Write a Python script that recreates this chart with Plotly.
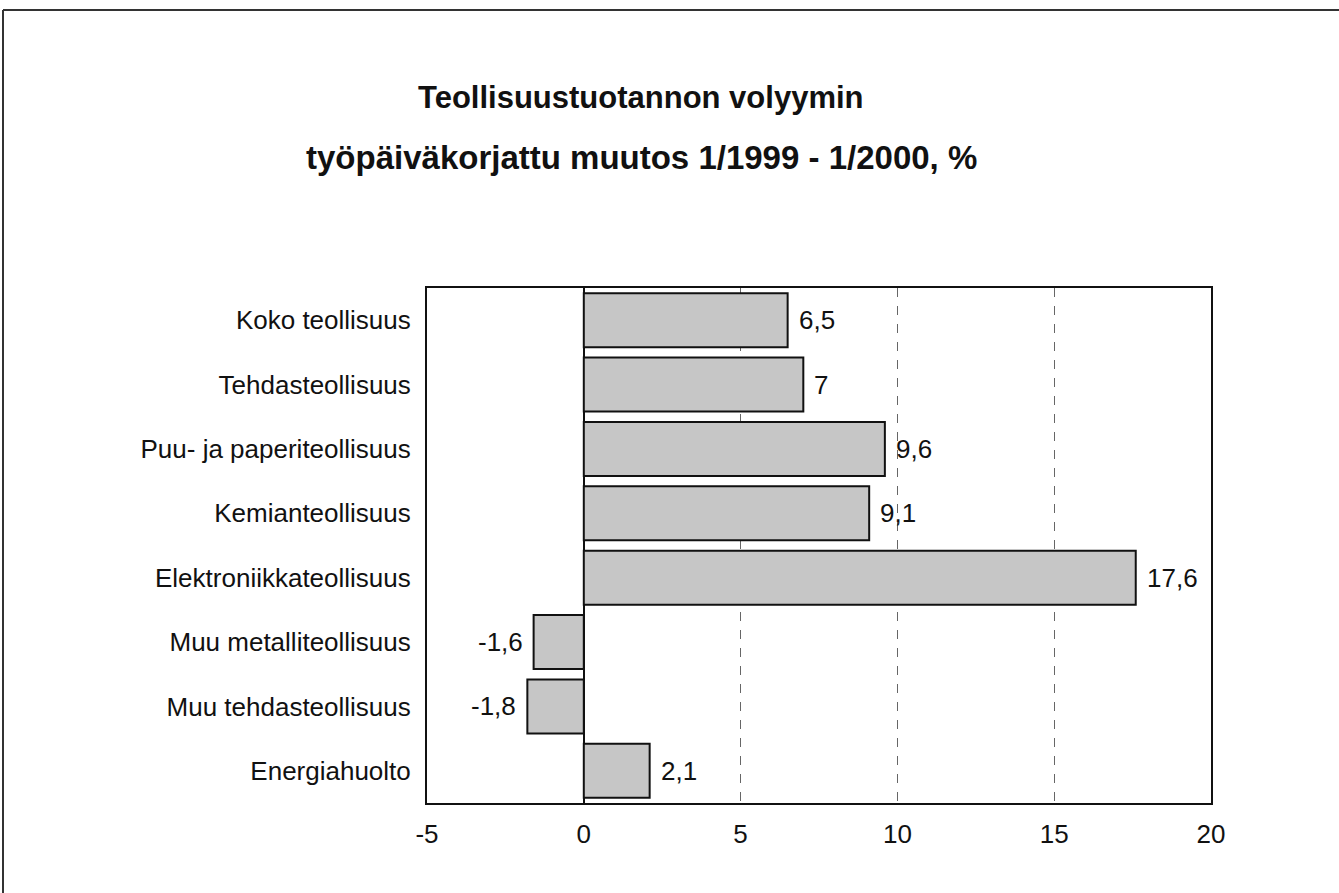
import plotly.graph_objects as go

categories = ["Koko teollisuus", "Tehdasteollisuus", "Puu- ja paperiteollisuus",
              "Kemianteollisuus", "Elektroniikkateollisuus", "Muu metalliteollisuus",
              "Muu tehdasteollisuus", "Energiahuolto"]
values = [6.5, 7, 9.6, 9.1, 17.6, -1.6, -1.8, 2.1]
x_ticks = [-5, 0, 5, 10, 15, 20]
title_lines = ["Teollisuustuotannon volyymin",
               "työpäiväkorjattu muutos 1/1999 - 1/2000, %"]

FONT = "Liberation Sans, Arial, sans-serif"

def fmt(v):
    s = f"{v:g}"
    return s.replace(".", ",")

fig = go.Figure()
fig.add_trace(go.Bar(
    y=categories, x=values, orientation="h",
    marker=dict(color="#c6c6c6", line=dict(color="#111111", width=2)),
    width=0.84, hoverinfo="skip",
))

annotations = []
for c, v in zip(categories, values):
    annotations.append(dict(
        x=v, y=c, xref="x", yref="y", text=fmt(v), showarrow=False,
        xanchor="left" if v >= 0 else "right",
        xshift=9 if v >= 0 else -9,
        font=dict(family=FONT, size=26, color="#111111"),
    ))

W, H = 1339, 893
L, R, T, B = 427, 1211, 288, 803
pw, ph = R - L, B - T

def px(x):
    return (x - L) / pw

def py(y):
    return (B - y) / ph

for txt, yy, sz in zip(title_lines, [97, 157], [31, 33]):
    annotations.append(dict(
        x=px(641), y=py(yy), xref="paper", yref="paper", text=f"<b>{txt}</b>",
        showarrow=False, xanchor="center", yanchor="middle",
        font=dict(family=FONT, size=sz, color="#111111"),
    ))

shapes = [
    dict(type="line", xref="paper", yref="paper", x0=px(3), x1=px(1339),
         y0=py(10), y1=py(10), line=dict(color="#333333", width=2)),
    dict(type="line", xref="paper", yref="paper", x0=px(3), x1=px(3),
         y0=py(10), y1=py(893), line=dict(color="#333333", width=2)),
]

fig.update_layout(
    width=W, height=H,
    margin=dict(l=L, r=W - R, t=T, b=H - B, autoexpand=False),
    paper_bgcolor="white", plot_bgcolor="white",
    showlegend=False,
    font=dict(family=FONT, size=26, color="#111111"),
    annotations=annotations, shapes=shapes,
    xaxis=dict(
        range=[-5, 20], tickvals=x_ticks, ticktext=[str(t) for t in x_ticks],
        showgrid=True, gridcolor="#666666", griddash="dash", gridwidth=1,
        zeroline=True, zerolinecolor="#111111", zerolinewidth=1.5,
        showline=True, linecolor="#111111", linewidth=2, mirror=True,
        ticks="", ticklabelstandoff=7,
        tickfont=dict(family=FONT, size=26, color="#111111"),
        fixedrange=True,
    ),
    yaxis=dict(
        autorange="reversed", categoryorder="array", categoryarray=categories,
        showgrid=False, zeroline=False,
        showline=True, linecolor="#111111", linewidth=2, mirror=True,
        ticks="", ticklabelstandoff=9,
        tickfont=dict(family=FONT, size=26, color="#111111"),
        fixedrange=True,
    ),
)

fig.write_html("out.html", config={"displayModeBar": False},
               post_script="document.body.style.margin='0px';")
